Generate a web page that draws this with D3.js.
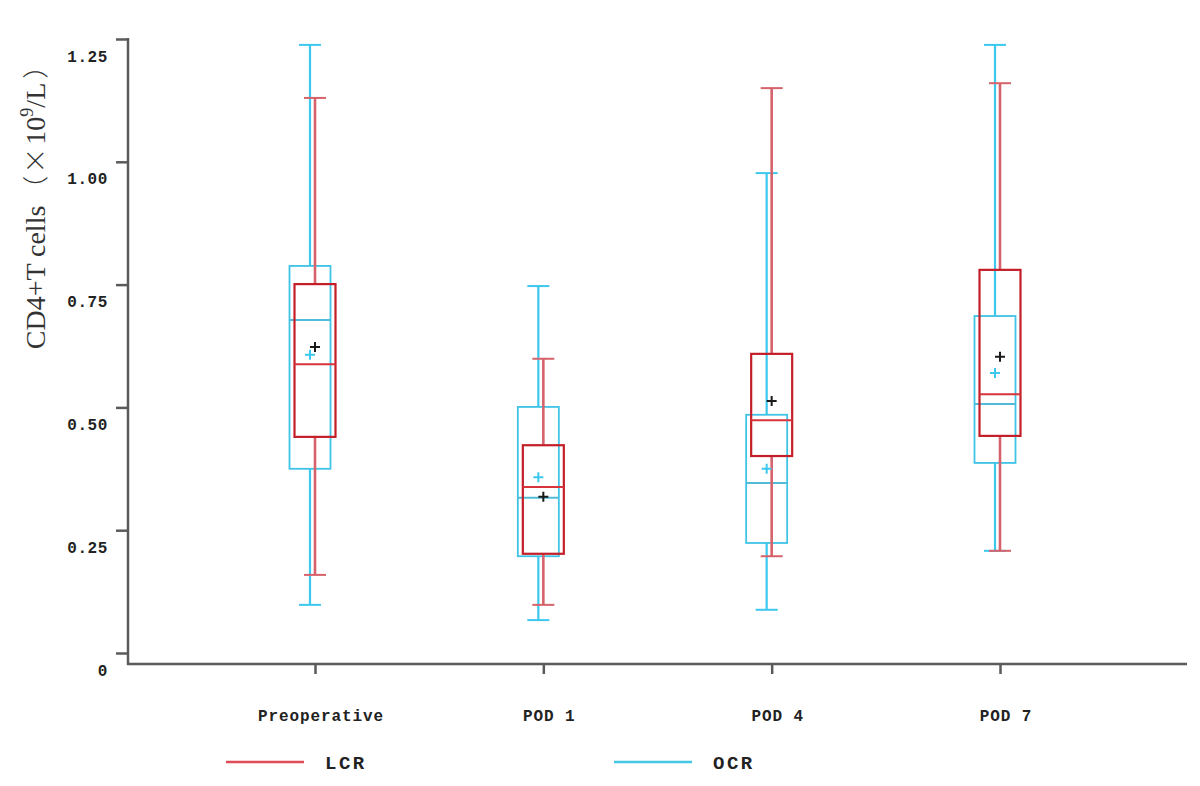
<!DOCTYPE html>
<html>
<head>
<meta charset="utf-8">
<script src="https://cdn.jsdelivr.net/npm/d3@7"></script>
<style>
  body { margin: 0; background: #fff; }
  svg { display: block; }
</style>
</head>
<body>
<svg id="chart" width="1200" height="786"></svg>
<script>
// CD4+ T cells box plot, LCR vs OCR
const svg = d3.select('#chart');
const width = +svg.attr('width');
const height = +svg.attr('height');

// Data
const categories = ['Preoperative', 'POD 1', 'POD 4', 'POD 7'];
const lcrMin  = [0.159, 0.098, 0.197, 0.208];
const lcrQ1   = [0.440, 0.202, 0.401, 0.442];
const lcrMed  = [0.588, 0.338, 0.474, 0.527];
const lcrQ3   = [0.751, 0.423, 0.609, 0.780];
const lcrMax  = [1.130, 0.599, 1.150, 1.160];
const lcrMean = [0.623, 0.318, 0.513, 0.603];

const ocrMin  = [0.098, 0.067, 0.088, 0.208];
const ocrQ1   = [0.375, 0.197, 0.224, 0.387];
const ocrMed  = [0.678, 0.316, 0.346, 0.507];
const ocrQ3   = [0.788, 0.501, 0.485, 0.686];
const ocrMax  = [1.238, 0.747, 0.977, 1.238];
const ocrMean = [0.607, 0.358, 0.375, 0.570];

const yTicks = [0, 0.25, 0.5, 0.75, 1.0, 1.25];
const seriesNames = ['LCR', 'OCR'];

// Layout
const axisX = 128;
const axisBottomY = 664;
const axisRight = 1187;
const boxW = 41;
const capW = 22;
const axisColor = '#5a5a5a';
const monoFont = '"Liberation Mono", "DejaVu Sans Mono", monospace';
const cjkFont = '"Noto Sans CJK SC", sans-serif';

const x = d3.scalePoint().domain(categories).range([315, 1000]);
const y = d3.scaleLinear().domain([0, 1.25]).range([653, 39]);

const series = [
    { name: 'OCR', dx: -5, min: ocrMin, q1: ocrQ1, med: ocrMed, q3: ocrQ3, max: ocrMax, mean: ocrMean,
      box: '#3fc3e6', whisker: '#3cc8ee', median: '#52bcd8', meanColor: '#3cc8ee', boxWidth: 1.8, whiskerWidth: 2.2 },
    { name: 'LCR', dx: 0, min: lcrMin, q1: lcrQ1, med: lcrMed, q3: lcrQ3, max: lcrMax, mean: lcrMean,
      box: '#c41f28', whisker: '#d6626b', median: '#d8343c', meanColor: '#1a1a1a', boxWidth: 2.2, whiskerWidth: 2.6 }
];

// Y axis
const yAxis = d3.axisLeft(y)
    .tickValues(yTicks)
    .tickSize(12)
    .tickSizeOuter(0)
    .tickPadding(8)
    .tickFormat(d => d === 0 ? '0' : d3.format('.2f')(d));

const yg = svg.append('g')
    .attr('transform', `translate(${axisX},0)`)
    .call(yAxis);
yg.select('.domain').remove();
yg.selectAll('.tick line').attr('stroke', axisColor).attr('stroke-width', 2.5);
yg.selectAll('.tick text')
    .attr('dy', '1.38em')
    .attr('font-family', monoFont)
    .attr('font-weight', 'bold')
    .attr('font-size', 16)
    .attr('letter-spacing', 0.6)
    .attr('fill', '#222');

svg.append('line')
    .attr('x1', axisX).attr('y1', y(1.25) - 1)
    .attr('x2', axisX).attr('y2', axisBottomY + 1)
    .attr('stroke', axisColor).attr('stroke-width', 2.5);

// X axis
const xAxis = d3.axisBottom(x).tickSize(10).tickSizeOuter(0).tickFormat('');
const xg = svg.append('g')
    .attr('transform', `translate(0,${axisBottomY})`)
    .call(xAxis);
xg.select('.domain').remove();
xg.selectAll('.tick line').attr('stroke', axisColor).attr('stroke-width', 2.5);

svg.append('line')
    .attr('x1', axisX - 1).attr('y1', axisBottomY)
    .attr('x2', axisRight).attr('y2', axisBottomY)
    .attr('stroke', axisColor).attr('stroke-width', 2.5);

svg.append('g').selectAll('text')
    .data(categories)
    .join('text')
    .attr('x', d => x(d) + 6)
    .attr('y', 721)
    .attr('text-anchor', 'middle')
    .attr('font-family', monoFont)
    .attr('font-weight', 'bold')
    .attr('font-size', 16)
    .attr('letter-spacing', 0.9)
    .attr('fill', '#222')
    .text(d => d);

// Y title
const title = svg.append('text')
    .attr('transform', 'translate(45,201) rotate(-90)')
    .attr('text-anchor', 'middle')
    .attr('font-family', '"Liberation Serif", "DejaVu Serif", serif')
    .attr('font-size', 28)
    .attr('fill', '#333');
title.append('tspan').text('CD4+T cells');
title.append('tspan').attr('dx', 4).attr('font-family', cjkFont).attr('font-weight', 300).attr('font-size', 26).text('（');
title.append('tspan').attr('dx', 2).attr('font-family', cjkFont).attr('font-weight', 300).attr('font-size', 26).text('×');
title.append('tspan').attr('dx', 3).text('10');
title.append('tspan').attr('font-size', 18).attr('dy', -12).text('9');
title.append('tspan').attr('dy', 12).text('/L');
title.append('tspan').attr('dx', 4).attr('font-family', cjkFont).attr('font-weight', 300).attr('font-size', 26).text('）');

// Boxes
series.forEach(s => {
    const g = svg.append('g');
    categories.forEach((c, i) => {
        const cx = x(c) + s.dx;
        // whiskers
        g.append('line')
            .attr('x1', cx).attr('x2', cx)
            .attr('y1', y(s.max[i])).attr('y2', y(s.q3[i]))
            .attr('stroke', s.whisker).attr('stroke-width', s.whiskerWidth);
        g.append('line')
            .attr('x1', cx).attr('x2', cx)
            .attr('y1', y(s.q1[i])).attr('y2', y(s.min[i]))
            .attr('stroke', s.whisker).attr('stroke-width', s.whiskerWidth);
        // caps
        [s.max[i], s.min[i]].forEach(v => {
            g.append('line')
                .attr('x1', cx - capW / 2).attr('x2', cx + capW / 2)
                .attr('y1', y(v)).attr('y2', y(v))
                .attr('stroke', s.whisker).attr('stroke-width', 2);
        });
        // box
        g.append('rect')
            .attr('x', cx - boxW / 2)
            .attr('y', y(s.q3[i]))
            .attr('width', boxW)
            .attr('height', y(s.q1[i]) - y(s.q3[i]))
            .attr('fill', 'none')
            .attr('stroke', s.box)
            .attr('stroke-width', s.boxWidth);
        // median
        g.append('line')
            .attr('x1', cx - boxW / 2).attr('x2', cx + boxW / 2)
            .attr('y1', y(s.med[i])).attr('y2', y(s.med[i]))
            .attr('stroke', s.median).attr('stroke-width', 2);
    });
});

// Means drawn last
series.forEach(s => {
    categories.forEach((c, i) => {
        const cx = x(c) + s.dx;
        const cy = y(s.mean[i]);
        const r = 5;
        svg.append('path')
            .attr('d', `M${cx - r},${cy}H${cx + r}M${cx},${cy - r}V${cy + r}`)
            .attr('stroke', s.meanColor)
            .attr('stroke-width', 2);
    });
});

// Legend
const legend = [
    { name: seriesNames[0], x: 226, color: '#df4c58' },
    { name: seriesNames[1], x: 614, color: '#45c6e2' }
];
legend.forEach(l => {
    svg.append('line')
        .attr('x1', l.x).attr('x2', l.x + 78)
        .attr('y1', 762).attr('y2', 762)
        .attr('stroke', l.color).attr('stroke-width', 2.5);
    svg.append('text')
        .attr('x', l.x + 99)
        .attr('y', 769)
        .attr('font-family', monoFont)
        .attr('font-weight', 'bold')
        .attr('font-size', 19)
        .attr('letter-spacing', 2.5)
        .attr('fill', '#222')
        .text(l.name);
});
</script>
</body>
</html>
